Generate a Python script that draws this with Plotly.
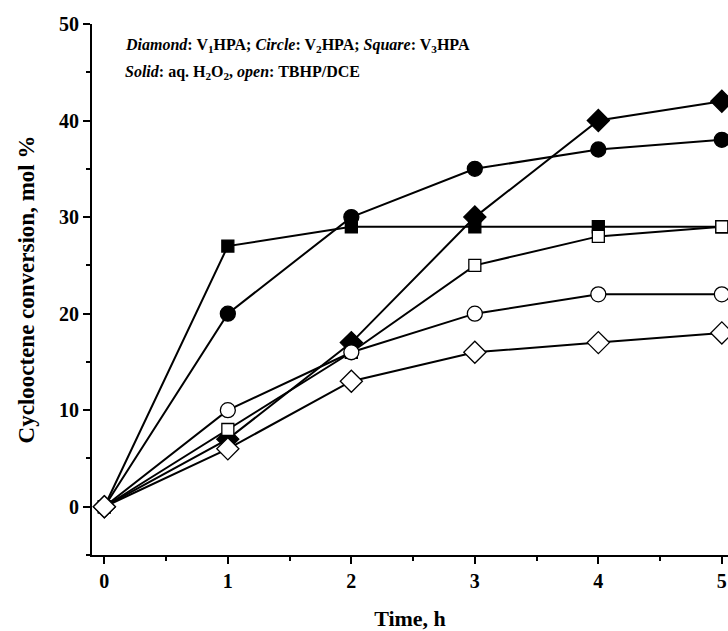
import plotly.graph_objects as go

time_h = [0, 1, 2, 3, 4, 5]
v1_h2o2 = [0, 7, 17, 30, 40, 42]
v2_h2o2 = [0, 20, 30, 35, 37, 38]
v3_h2o2 = [0, 27, 29, 29, 29, 29]
v3_tbhp = [0, 8, 16, 25, 28, 29]
v2_tbhp = [0, 10, 16, 20, 22, 22]
v1_tbhp = [0, 6, 13, 16, 17, 18]

note_line1 = "<b><i>Diamond</i>: V<sub>1</sub>HPA; <i>Circle</i>: V<sub>2</sub>HPA; <i>Square</i>: V<sub>3</sub>HPA</b>"
note_line2 = "<b><i>Solid</i>: aq. H<sub>2</sub>O<sub>2</sub>, <i>open</i>: TBHP/DCE</b>"

FONT = "Liberation Serif"
fig = go.Figure()

series = [
    (v3_h2o2, "square", "black", 12),
    (v2_h2o2, "circle", "black", 15),
    (v1_h2o2, "diamond", "black", 17),
    (v3_tbhp, "square", "white", 12),
    (v2_tbhp, "circle", "white", 15),
    (v1_tbhp, "diamond", "white", 17),
]
for ys, sym, fill, size in series:
    fig.add_trace(go.Scatter(
        x=time_h, y=ys, mode="lines+markers",
        line=dict(color="black", width=2),
        marker=dict(symbol=sym, size=size, color=fill,
                    line=dict(color="black", width=1.3)),
        showlegend=False,
    ))

axis_common = dict(
    showgrid=False, zeroline=False, showline=True, linecolor="black", linewidth=2,
    ticks="outside", ticklen=7, tickwidth=1.5, tickcolor="black",
    tickfont=dict(family=FONT, size=20, color="black", weight="bold"),
)
fig.update_xaxes(range=[-0.1, 5.05], dtick=1, tick0=0,
                 minor=dict(ticks="outside", ticklen=4, dtick=0.5, tickcolor="black"),
                 title=dict(text="<b>Time, h</b>", font=dict(family=FONT, size=22, color="black"), standoff=20),
                 **axis_common)
fig.update_yaxes(range=[-5, 50], dtick=10, tick0=0,
                 minor=dict(ticks="outside", ticklen=4, dtick=5, tickcolor="black"),
                 title=dict(text="<b>Cyclooctene conversion, mol %</b>", font=dict(family=FONT, size=23, color="black"), standoff=18),
                 **axis_common)

for txt, yp in [(note_line1, 46), (note_line2, 72)]:
    fig.add_annotation(
        xref="paper", yref="paper", x=0.048, y=1 - (yp - 24) / 531, xanchor="left", yanchor="middle",
        align="left", showarrow=False, text=txt,
        font=dict(family=FONT, size=16, color="black"),
    )

fig.update_layout(
    width=728, height=631,
    margin=dict(l=92, r=0, t=24, b=76),
    plot_bgcolor="white", paper_bgcolor="white",
)
fig.write_html("out.html")
